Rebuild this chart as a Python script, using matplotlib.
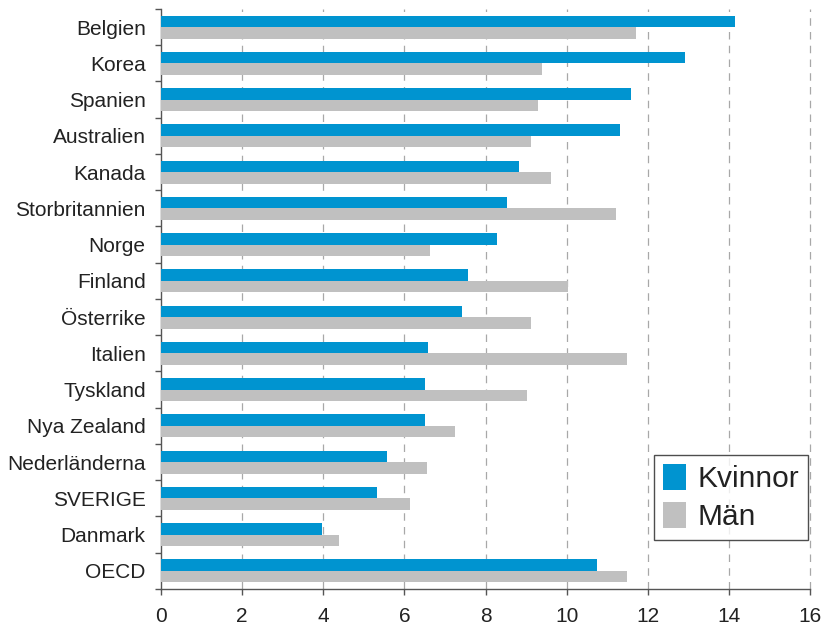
import matplotlib
matplotlib.use("Agg")
import matplotlib.pyplot as plt
import numpy as np

COUNTRIES = ["Belgien", "Korea", "Spanien", "Australien", "Kanada", "Storbritannien",
             "Norge", "Finland", "Österrike", "Italien", "Tyskland", "Nya Zealand",
             "Nederländerna", "SVERIGE", "Danmark", "OECD"]
KVINNOR = [14.14, 12.91, 11.58, 11.32, 8.82, 8.54, 8.29, 7.56, 7.43, 6.59, 6.52, 6.50,
           5.58, 5.33, 3.98, 10.74]
MAN = [11.71, 9.40, 9.30, 9.13, 9.62, 11.21, 6.64, 10.04, 9.13, 11.49, 9.02, 7.24,
       6.57, 6.13, 4.38, 11.49]
XTICKS = [0, 2, 4, 6, 8, 10, 12, 14, 16]

BLUE, GREY, INK, AXIS = "#0094d0", "#c0c0c0", "#222222", "#555555"
plt.rcParams["font.family"] = ["Liberation Sans", "DejaVu Sans"]

fig = plt.figure(figsize=(8.24, 6.29), dpi=100)
ax = fig.add_axes([0.1954, 0.0636, 0.7876, 0.9221])

y = np.arange(len(COUNTRIES))
h = 0.32
ax.barh(y - h / 2, KVINNOR, height=h, color=BLUE, label="Kvinnor", zorder=3)
ax.barh(y + h / 2, MAN, height=h, color=GREY, label="Män", zorder=3)

ax.set_xlim(0, 16)
ax.set_ylim(len(COUNTRIES) - 0.5, -0.5)
ax.set_xticks(XTICKS)
ax.set_xticklabels([str(t) for t in XTICKS], fontsize=15, color=INK)
ax.set_yticks(y)
ax.set_yticklabels(COUNTRIES, fontsize=15, color=INK)
ax.set_yticks(np.arange(-0.5, len(COUNTRIES)), minor=True)
ax.tick_params(axis="y", which="major", length=0, pad=11)
ax.tick_params(axis="y", which="minor", length=4, width=1, color=AXIS, direction="out")
ax.tick_params(axis="x", length=4, width=1, color=AXIS, direction="out", pad=9)

for s in ("top", "right"):
    ax.spines[s].set_visible(False)
for s in ("left", "bottom"):
    ax.spines[s].set_color(AXIS)
    ax.spines[s].set_linewidth(1)

ax.set_axisbelow(True)
for t in XTICKS[1:]:
    ax.axvline(t, color="#a8a8a8", lw=0.9, ls=(0, (6, 5)), zorder=1, clip_on=False)

leg = ax.legend(loc="lower right", bbox_to_anchor=(0.997, 0.084), borderaxespad=0,
                fontsize=21.5, frameon=True, fancybox=False, handlelength=0.75,
                handleheight=0.95, handletextpad=0.4, labelspacing=0.3,
                borderpad=0.3)
leg.get_frame().set_edgecolor("#222222")
leg.get_frame().set_linewidth(1)
for txt in leg.get_texts():
    txt.set_color(INK)

fig.savefig("out.png", dpi=100)
